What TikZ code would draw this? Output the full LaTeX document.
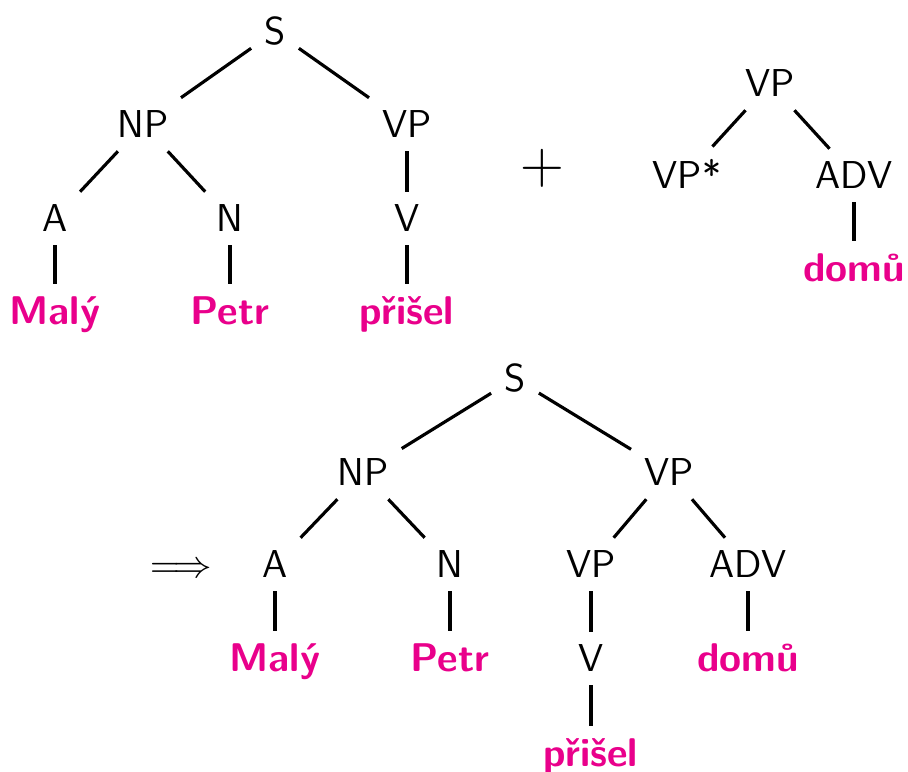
\documentclass[tikz,border=0pt]{standalone}
\usepackage{xcolor}
\usepackage{tikz}
\usetikzlibrary{
  graphs,
  positioning,
}
\definecolor{wordpink}{RGB}{233,0,139}
\newcommand{\treefont}{\fontsize{11.06}{13.3}\selectfont\sffamily}
\tikzset{
  cat/.style={
    anchor=base
  },
  word/.style={
    anchor=base,
    text=wordpink,
    font=\fontsize{11.4}{13.3}\selectfont\sffamily\bfseries
  }
}

\begin{document}
\begin{tikzpicture}[font=\treefont, on grid, line width=0.9pt]
  \useasboundingbox (0,0) rectangle (9.08,-7.72);

  %% Initial tree
  \node[cat] (s) at (2.75,-0.45) {S};
  \node[below left=0.93 and 1.32 of s.base, cat]  (np) {NP};
  \node[below right=0.93 and 1.32 of s.base, cat] (vp) {VP};
  \node[below left=0.94 and 0.88 of np.base, cat]  (a) {A};
  \node[below right=0.94 and 0.87 of np.base, cat] (n) {N};
  \node[below=0.94 of vp.base, cat] (v) {V};
  \node[below=0.93 of a.base, word] (maly) {Malý};
  \node[below=0.93 of n.base, word] (petr) {Petr};
  \node[below=0.93 of v.base, word] (prisel) {přišel};

  \draw (s) -- (np);
  \draw (s) -- (vp);
  \draw (np) -- (a);
  \draw (np) -- (n);
  \draw (vp) -- (v);
  \draw (a) -- (maly);
  \draw (n) -- (petr);
  \draw (v) -- (prisel);

  \node[font=\fontsize{18.5}{20}\selectfont] (plus) at (5.42,-1.68) {$+$};

  %% Auxiliary tree
  \node[cat] (aux_vp) at (7.70,-0.97) {VP};
  \node[below left=0.92 and 0.83 of aux_vp.base, cat]  (aux_foot) {VP*};
  \node[below right=0.92 and 0.84 of aux_vp.base, cat] (aux_adv) {ADV};
  \node[below=0.93 of aux_adv.base, word] (aux_domu) {domů};

  \graph{
    (aux_vp) -- (aux_foot);
    (aux_vp) -- (aux_adv) -- (aux_domu);
  };

  %% Result of adjunction
  \node[inner sep=1pt] (implies) at (1.81,-5.70) {$\Longrightarrow$};
  \node[cat] (res_s) at (5.15,-3.92) {S};
  \node[below left=0.94 and 1.52 of res_s.base, cat]  (res_np) {NP};
  \node[below right=0.94 and 1.54 of res_s.base, cat] (res_vp) {VP};
  \node[below left=0.92 and 0.88 of res_np.base, cat]  (res_a) {A};
  \node[below right=0.92 and 0.87 of res_np.base, cat] (res_n) {N};
  \node[below left=0.92 and 0.78 of res_vp.base, cat]  (res_vp_low) {VP};
  \node[below right=0.92 and 0.79 of res_vp.base, cat] (res_adv) {ADV};
  \node[below=0.94 of res_a.base, word] (res_maly) {Malý};
  \node[below=0.94 of res_n.base, word] (res_petr) {Petr};
  \node[below=0.94 of res_vp_low.base, cat] (res_v) {V};
  \node[below=0.94 of res_adv.base, word] (res_domu) {domů};
  \node[below=0.95 of res_v.base, word] (res_prisel) {přišel};

  \graph{
    (res_s) -- (res_np) -- (res_a) -- (res_maly);
    (res_np) -- (res_n) -- (res_petr);
    (res_s) -- (res_vp) -- (res_vp_low) -- (res_v) -- (res_prisel);
    (res_vp) -- (res_adv) -- (res_domu);
  };
\end{tikzpicture}
\end{document}
